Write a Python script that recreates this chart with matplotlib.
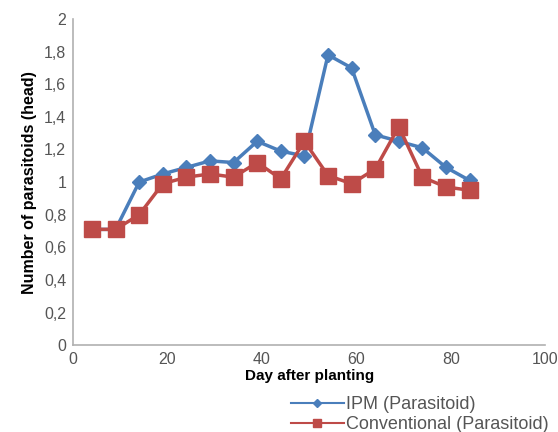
import numpy as np
import matplotlib.pyplot as plt
from matplotlib.lines import Line2D
from matplotlib.ticker import FuncFormatter

plt.rcParams['font.family'] = ['Liberation Sans', 'DejaVu Sans']

days = [4, 9, 14, 19, 24, 29, 34, 39, 44, 49, 54, 59, 64, 69, 74, 79, 84]
ipm = [0.71, 0.71, 1.00, 1.05, 1.09, 1.13, 1.12, 1.25, 1.19, 1.16, 1.78, 1.70,
       1.29, 1.25, 1.21, 1.09, 1.01]
conv = [0.71, 0.71, 0.80, 0.99, 1.03, 1.05, 1.03, 1.12, 1.02, 1.25, 1.04, 0.99,
        1.08, 1.34, 1.03, 0.97, 0.95]
names = ['IPM (Parasitoid)', 'Conventional (Parasitoid)']
blue, red = '#4a7ebb', '#be4b48'

fig = plt.figure(figsize=(5.58, 4.32), dpi=100)
ax = fig.add_axes([0.131, 0.201, 0.846, 0.755])

ax.plot(days, ipm, color=blue, lw=2.5, marker='D', ms=7, zorder=2)
ax.plot(days, conv, color=red, lw=2.5, marker='s', ms=11, zorder=3)

ax.set_xlim(0, 100)
ax.set_ylim(0, 2)
ax.set_xticks(np.arange(0, 101, 20))
ax.set_yticks(np.arange(0, 2.01, 0.2))
ax.yaxis.set_major_formatter(FuncFormatter(
    lambda v, p: ('%g' % round(v, 1)).replace('.', ',')))

for s in ['top', 'right']:
    ax.spines[s].set_visible(False)
for s in ['left', 'bottom']:
    ax.spines[s].set_color('#b0b0b0')
    ax.spines[s].set_linewidth(1.2)
ax.tick_params(length=0, labelsize=11.5, colors='#555555', pad=5)

ax.set_xlabel('Day after planting', fontsize=11, fontweight='bold', labelpad=1)
ax.set_ylabel('Number of parasitoids (head)', fontsize=11.5, fontweight='bold',
              labelpad=5)

# legend handles are thinner than the plotted lines
handles = [Line2D([], [], color=blue, lw=1.5, marker='D', ms=4),
           Line2D([], [], color=red, lw=1.5, marker='s', ms=6)]
fig.legend(handles, names, loc='upper left', bbox_to_anchor=(0.522, 0.083),
           frameon=False, fontsize=13, handlelength=2.9, handletextpad=0.15,
           labelspacing=0.15, borderaxespad=0, borderpad=0,
           labelcolor='#555555')

fig.savefig('out.png', dpi=100)
